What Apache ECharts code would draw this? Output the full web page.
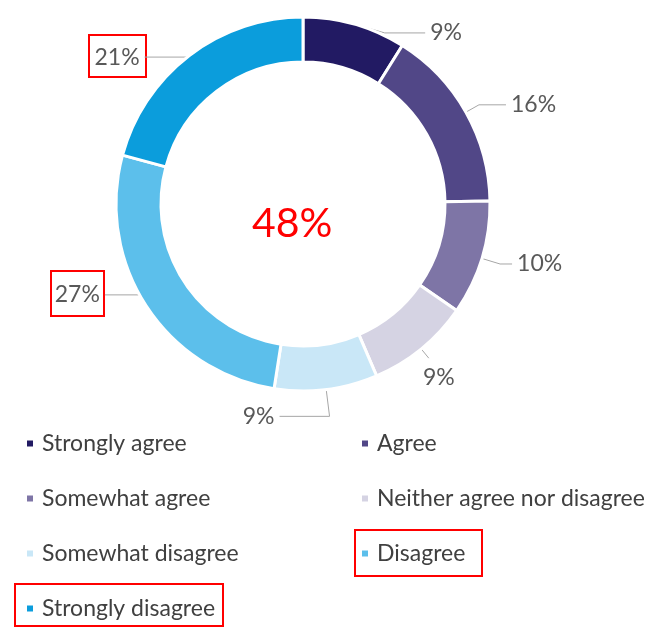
<!DOCTYPE html>
<html><head><meta charset="utf-8">
<script src="https://cdn.jsdelivr.net/npm/echarts@6/dist/echarts.min.js"></script>
<style>html,body{margin:0;padding:0;background:#fff}#c{width:654px;height:628px}</style>
</head><body><div id="c"></div>
<script>
const categories = ['Strongly agree','Agree','Somewhat agree','Neither agree nor disagree','Somewhat disagree','Disagree','Strongly disagree'];
const values = [9,16,10,9,9,27,21];
const colors = ['#221a63','#514787','#7e75a6','#d5d3e3','#c9e7f7','#5cbfeb','#0b9ddc'];
const centerText = '48%';
const leftLegend = [categories[0],categories[2],categories[4],categories[6]];
const rightLegend = [categories[1],categories[3],categories[5]];
// label leader-line styling (first / second segment lengths)
const lineLen = [-9, 15, 19, 12, 27, -20, -2];
const lineLen2 = [73, 27, 12, 0, 50, 58, 46];

const chart = echarts.init(document.getElementById('c'));
const legendBase = {orient:'vertical', icon:'rect', itemWidth:8, itemHeight:8, itemGap:32,
  textStyle:{fontFamily:'Lato', fontSize:23, color:'#404040', padding:[0,0,0,3]}, selectedMode:false};
chart.setOption({
  animation:false,
  color: colors,
  legend:[
    Object.assign({left:20, top:427, data:leftLegend}, legendBase),
    Object.assign({left:355, top:427, data:rightLegend}, legendBase)
  ],
  series:[{
    type:'pie', center:[303,204], radius:[142,187], startAngle:90, clockwise:true,
    avoidLabelOverlap:false,
    itemStyle:{borderColor:'#fff', borderWidth:3},
    label:{formatter:'{c}%', fontFamily:'Lato', fontSize:23, color:'#595959'},
    labelLine:{lineStyle:{color:'#a6a6a6', width:1}},
    labelLayout:function(p){
      const pts = p.labelLinePoints;
      if (!pts) return {};
      if (p.dataIndex === 4) {
        const len2 = Math.abs(pts[2][0]-pts[1][0]);
        const x3 = pts[1][0]-len2;
        return {x:x3-5, y:pts[1][1], align:'right', labelLinePoints:[pts[0],pts[1],[x3,pts[1][1]]]};
      }
      if (p.dataIndex === 3) {
        return {x:pts[1][0]+10, y:pts[1][1]+8, align:'center', verticalAlign:'top', labelLinePoints:[pts[0],pts[1],pts[1]]};
      }
      return {};
    },
    data: categories.map((n,i)=>({name:n, value:values[i], labelLine:{length:lineLen[i], length2:lineLen2[i]}}))
  }],
  graphic:[
    {type:'text', left:252, top:203, style:{text:centerText, fontFamily:'Lato', fontSize:41, fill:'#ff0000'}},
    {type:'rect', shape:{x:89,y:35,width:57,height:42}, style:{fill:'none', stroke:'#ff0000', lineWidth:2}},
    {type:'rect', shape:{x:51,y:271,width:53,height:45}, style:{fill:'none', stroke:'#ff0000', lineWidth:2}},
    {type:'rect', shape:{x:355,y:530,width:127,height:46}, style:{fill:'none', stroke:'#ff0000', lineWidth:2}},
    {type:'rect', shape:{x:15,y:584,width:208,height:42}, style:{fill:'none', stroke:'#ff0000', lineWidth:2}}
  ]
});
</script></body></html>
